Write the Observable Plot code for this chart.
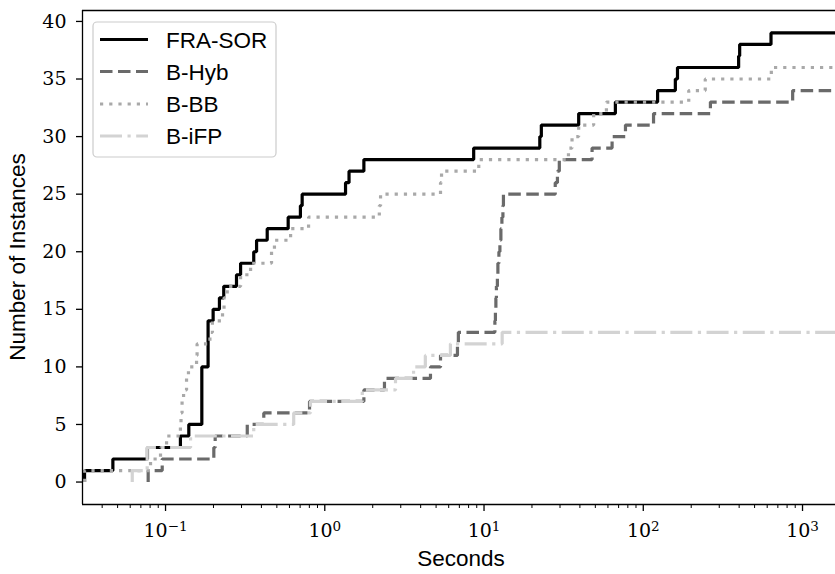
<!DOCTYPE html>
<html>
<head>
<meta charset="utf-8">
<script src="https://cdn.jsdelivr.net/npm/d3@7"></script>
<script src="https://cdn.jsdelivr.net/npm/@observablehq/plot@0.6"></script>
<style>
  body { margin: 0; background: #fff; }
  #chart svg { display: block; }
  #chart svg text.tick-serif { font-family: "DejaVu Serif", "Liberation Serif", "Times New Roman", serif !important; }
</style>
</head>
<body>
<div id="chart"></div>
<script>
// ---- Data (solve times in seconds; n-th entry = n-th solved instance) ----
const solvers = ["FRA-SOR", "B-Hyb", "B-BB", "B-iFP"];
const colors = ["#000000", "#6a6a6a", "#a9a9a9", "#d3d3d3"];
const dashes = ["none", "12.5,5.5", "3.2,6", "22,5.5,3.2,5.5"];

const timesFRASOR = [0.031, 0.0467, 0.077, 0.124, 0.140, 0.169, 0.169, 0.169, 0.169, 0.169,
  0.185, 0.185, 0.185, 0.185, 0.199, 0.218, 0.232, 0.279, 0.296, 0.358, 0.373, 0.435, 0.589,
  0.703, 0.721, 1.35, 1.42, 1.76, 8.61, 22.4, 22.9, 39.3, 66.8, 123, 159, 164, 397, 403, 634];
const timesBHyb = [0.0778, 0.0953, 0.201, 0.205, 0.326, 0.414, 0.802, 1.76, 2.37, 4.61, 5.33,
  6.81, 6.90, 11.70, 11.79, 11.87, 11.96, 12.13, 12.22, 12.40, 12.58, 12.76, 12.95, 13.14, 13.24,
  28.0, 28.9, 29.7, 47.7, 63.7, 77.3, 116, 264, 867];
const timesBBB = [0.031, 0.0805, 0.0930, 0.1015, 0.124, 0.1251, 0.127, 0.1298, 0.1355, 0.1393,
  0.1566, 0.1578, 0.190, 0.197, 0.228, 0.233, 0.244, 0.296, 0.342, 0.463, 0.483, 0.610, 0.791,
  2.20, 2.24, 5.33, 5.41, 9.27, 33.9, 35.7, 39.3, 48.8, 58.7, 193, 245, 637];
const timesBiFP = [0.0618, 0.0767, 0.0767, 0.1436, 0.358, 0.638, 0.813, 1.72, 2.78, 3.61, 4.28, 6.15, 13.0];
const timeLimit = 3600;

const yTicks = [0, 5, 10, 15, 20, 25, 30, 35, 40];
const xTicks = [0.1, 1, 10, 100, 1000];
const xTickExponents = ["\u22121", "0", "1", "2", "3"];
const xDomain = [0.0301, 1611];
const yDomain = [-1.95, 40.95];

// ---- Build step series ----
function steps(name, times) {
  const pts = [{solver: name, t: times[0], n: 0}];
  times.forEach((t, i) => pts.push({solver: name, t, n: i + 1}));
  pts.push({solver: name, t: timeLimit, n: times.length});
  return pts;
}
const allTimes = [timesFRASOR, timesBHyb, timesBBB, timesBiFP];
const series = solvers.map((s, i) => steps(s, allTimes[i]));

const minorTicks = [];
for (let k = -2; k <= 3; k++) for (let m = 2; m <= 9; m++) {
  const v = m * Math.pow(10, k);
  if (v >= xDomain[0] && v <= xDomain[1]) minorTicks.push(v);
}

const serif = "'DejaVu Serif', 'Liberation Serif', serif";
const sans = "'Liberation Sans', Arial, Helvetica, sans-serif";

const lineMarks = series.map((d, i) => Plot.line(d, {
  x: "t", y: "n", curve: "step-after",
  stroke: colors[i], strokeWidth: 3.2,
  strokeDasharray: dashes[i], strokeLinecap: "butt", strokeLinejoin: "miter",
  clip: true
}));

const chart = Plot.plot({
  width: 835, height: 574,
  marginTop: 10, marginBottom: 70, marginLeft: 82, marginRight: 0,
  style: {background: "white", color: "black", fontSize: "19px", overflow: "visible"},
  x: {type: "log", domain: xDomain},
  y: {domain: yDomain},
  marks: [
    ...lineMarks,
    Plot.axisY({ticks: yTicks, tickSize: 6, tickPadding: 10, label: null, strokeWidth: 1.3,
      fontSize: 19, fontFamily: serif}),
    Plot.axisX({ticks: minorTicks, tickSize: 4, tickFormat: () => "", label: null, strokeWidth: 1}),
    Plot.axisX({ticks: xTicks, tickSize: 7, tickPadding: 12, label: null, strokeWidth: 1.3,
      fontSize: 19, fontFamily: serif,
      tickFormat: d => "10^" + xTickExponents[xTicks.indexOf(d)]}),
    Plot.ruleX([xDomain[0]], {stroke: "black", strokeWidth: 1.3}),
    Plot.ruleY([yDomain[0], yDomain[1]], {stroke: "black", strokeWidth: 1.3})
  ]
});

document.getElementById("chart").appendChild(chart);

const svg = d3.select(chart);
// tick labels: serif font, superscript exponents on x tick labels
svg.selectAll("text").each(function() {
  const sel = d3.select(this);
  sel.classed("tick-serif", true).style("font-family", serif);
  const t = this.textContent;
  if (t.includes("^")) {
    const [base, exp] = t.split("^");
    sel.text(base);
    sel.append("tspan").attr("dy", "-0.42em").attr("font-size", "13.5px").text(exp);
  }
});

// axis titles
svg.append("text")
  .attr("x", 461).attr("y", 566)
  .attr("text-anchor", "middle")
  .attr("font-family", sans).attr("font-size", 22.5).attr("fill", "black")
  .text("Seconds");
svg.append("text")
  .attr("transform", "translate(25,257) rotate(-90)")
  .attr("text-anchor", "middle")
  .attr("font-family", sans).attr("font-size", 22.5).attr("fill", "black")
  .text("Number of Instances");

// legend
const lg = svg.append("g");
lg.append("rect")
  .attr("x", 93).attr("y", 22).attr("width", 183).attr("height", 135)
  .attr("rx", 4).attr("fill", "white").attr("fill-opacity", 0.8)
  .attr("stroke", "#cccccc").attr("stroke-width", 1.2);
const rowY = [39.5, 71.5, 104, 136];
solvers.forEach((s, i) => {
  lg.append("line")
    .attr("x1", 100).attr("x2", 148).attr("y1", rowY[i]).attr("y2", rowY[i])
    .attr("stroke", colors[i]).attr("stroke-width", 3.2)
    .attr("stroke-dasharray", dashes[i]);
  lg.append("text")
    .attr("x", 166).attr("y", rowY[i] + 8)
    .attr("text-anchor", "start")
    .attr("font-family", sans).attr("font-size", 22.5).attr("fill", "black")
    .text(s);
});
</script>
</body>
</html>
